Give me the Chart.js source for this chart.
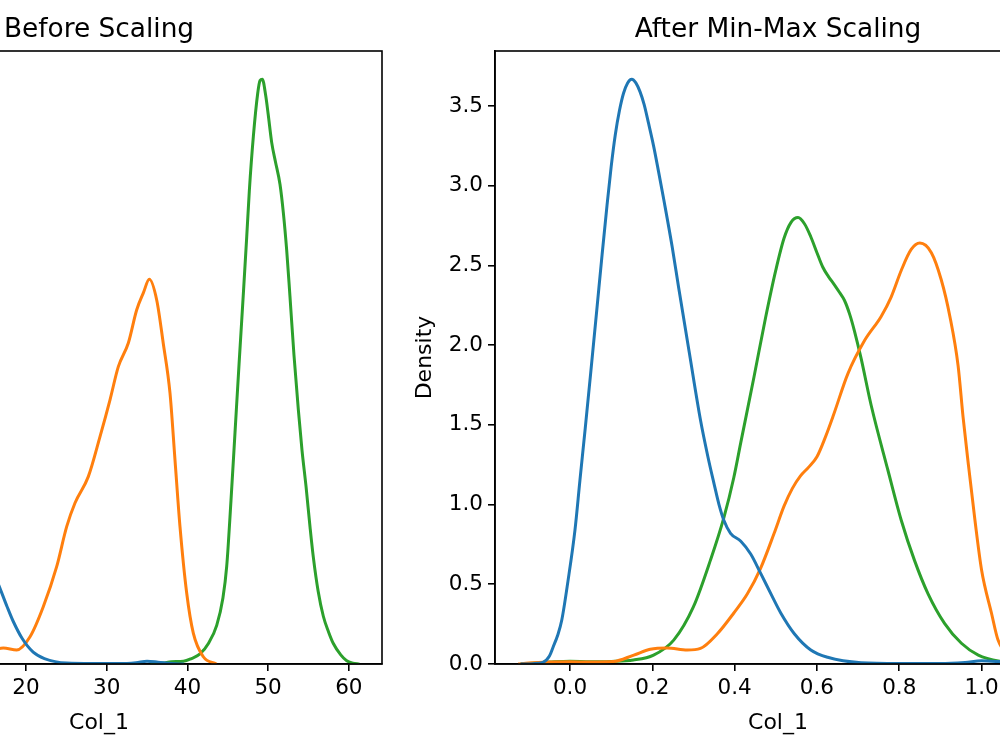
<!DOCTYPE html>
<html>
<head>
<meta charset="utf-8">
<script src="https://cdn.jsdelivr.net/npm/chart.js@4.4.0/dist/chart.umd.min.js"></script>
<style>
  html, body { margin: 0; padding: 0; background: #fff; width: 1000px; height: 750px; overflow: hidden; position: relative; }
  canvas { position: absolute; top: 0; }
  #before-chart { left: -300px; }
  #after-chart { left: 400px; }
</style>
</head>
<body>
<canvas id="before-chart" width="720" height="750"></canvas>
<canvas id="after-chart" width="700" height="750"></canvas>
<script>
// Before scaling (raw Col_1 values)
const blueBeforeX = [-3.08, -2.06, -1.24, -0.7, -0.39, -0.02, 0.32, 0.83, 1.41, 1.82, 2.26, 2.7, 3.21, 3.65, 4.06, 4.4, 4.74, 5.08, 5.42, 5.76, 6.1, 6.44, 6.78, 7.12, 7.46, 7.9, 8.31, 8.75, 9.43, 9.98, 10.86, 11.78, 12.39, 12.9, 13.31, 13.72, 14.26, 15.11, 15.93, 16.74, 17.66, 18.41, 19.53, 20.89, 22.28, 25.04, 28.2, 31.6, 33.64, 35.0, 36.36, 38.06, 39.56];
const blueBeforeY = [0, 0.0001, 0.0003, 0.0015, 0.0031, 0.0053, 0.0081, 0.0153, 0.0247, 0.0338, 0.0435, 0.0535, 0.0653, 0.0756, 0.0847, 0.0918, 0.0976, 0.1021, 0.1053, 0.1072, 0.1079, 0.1072, 0.1056, 0.1032, 0.1, 0.0956, 0.0909, 0.0856, 0.0771, 0.0694, 0.0574, 0.045, 0.0382, 0.0332, 0.0294, 0.0265, 0.0241, 0.0226, 0.0203, 0.0168, 0.0126, 0.0094, 0.0056, 0.0026, 0.0012, 0.0002, 0.0001, 0.0001, 0.0003, 0.0006, 0.0004, 0.0001, 0];
const orangeBeforeX = [4.83, 5.64, 7.2, 8.76, 10.32, 12.04, 13.6, 14.84, 16.12, 17.19, 18.85, 20.5, 22.14, 23.8, 25.04, 26.07, 27.72, 29.17, 30.41, 31.44, 32.68, 33.72, 34.54, 35.28, 36.2, 37.0, 37.84, 38.46, 39.08, 39.91, 40.73, 41.97, 43.6];
const orangeBeforeY = [0, 0.0002, 0.0004, 0.00045, 0.0004, 0.0005, 0.0018, 0.0029, 0.0032, 0.0035, 0.0031, 0.006, 0.0126, 0.0214, 0.0302, 0.0354, 0.0412, 0.05, 0.0581, 0.0654, 0.0706, 0.0779, 0.0816, 0.0846, 0.08, 0.0706, 0.0596, 0.0449, 0.0302, 0.0156, 0.0068, 0.0016, 0];
const greenBeforeX = [35.4, 37.0, 38.0, 39.5, 40.5, 41.56, 42.6, 43.63, 44.4, 44.87, 45.4, 45.9, 46.4, 46.95, 47.35, 47.67, 48.17, 48.71, 49.0, 49.28, 49.7, 50.0, 50.45, 50.9, 51.47, 51.9, 52.3, 52.7, 53.2, 53.74, 54.2, 54.7, 55.2, 55.6, 56.2, 56.84, 57.5, 58.08, 59.0, 59.74, 60.5, 61.3];
const greenBeforeY = [0, 0.0002, 0.0005, 0.0006, 0.0012, 0.0022, 0.0045, 0.0085, 0.0145, 0.0215, 0.036, 0.051, 0.066, 0.082, 0.094, 0.104, 0.116, 0.1255, 0.1283, 0.1286, 0.125, 0.121, 0.1146, 0.1105, 0.1055, 0.099, 0.091, 0.081, 0.068, 0.056, 0.047, 0.039, 0.03, 0.0235, 0.016, 0.0105, 0.007, 0.0045, 0.002, 0.0007, 0.0002, 0];

// After min-max scaling
const blueAfterX = [-0.12, -0.09, -0.066, -0.05, -0.041, -0.03, -0.02, -0.005, 0.012, 0.024, 0.037, 0.05, 0.065, 0.078, 0.09, 0.1, 0.11, 0.12, 0.13, 0.14, 0.15, 0.16, 0.17, 0.18, 0.19, 0.203, 0.215, 0.228, 0.248, 0.264, 0.29, 0.317, 0.335, 0.35, 0.362, 0.374, 0.39, 0.415, 0.439, 0.463, 0.49, 0.512, 0.545, 0.585, 0.626, 0.707, 0.8, 0.9, 0.96, 1.0, 1.04, 1.09, 1.134];
const blueAfterY = [0, 0.002, 0.01, 0.05, 0.107, 0.18, 0.276, 0.52, 0.84, 1.15, 1.48, 1.82, 2.22, 2.57, 2.88, 3.12, 3.32, 3.47, 3.58, 3.645, 3.668, 3.645, 3.59, 3.51, 3.4, 3.25, 3.09, 2.91, 2.62, 2.36, 1.95, 1.53, 1.3, 1.13, 1.0, 0.9, 0.82, 0.77, 0.69, 0.57, 0.43, 0.32, 0.19, 0.088, 0.042, 0.008, 0.003, 0.003, 0.01, 0.02, 0.015, 0.004, 0];
const orangeAfterX = [-0.126, -0.1, -0.05, 0.0, 0.05, 0.105, 0.155, 0.195, 0.236, 0.285, 0.317, 0.358, 0.398, 0.431, 0.463, 0.496, 0.52, 0.54, 0.56, 0.58, 0.6, 0.62, 0.64, 0.675, 0.716, 0.756, 0.78, 0.805, 0.829, 0.85, 0.878, 0.902, 0.923, 0.943, 0.955, 0.968, 0.984, 1.0, 1.024, 1.04, 1.07, 1.1, 1.134];
const orangeAfterY = [0, 0.006, 0.012, 0.014, 0.012, 0.015, 0.056, 0.092, 0.1, 0.088, 0.098, 0.19, 0.32, 0.44, 0.6, 0.82, 0.99, 1.1, 1.18, 1.235, 1.3, 1.42, 1.56, 1.82, 2.03, 2.18, 2.3, 2.47, 2.6, 2.64, 2.58, 2.41, 2.18, 1.87, 1.55, 1.25, 0.9, 0.59, 0.32, 0.15, 0.04, 0.008, 0];
const greenAfterX = [-0.12, -0.09, -0.05, 0.0, 0.05, 0.1, 0.154, 0.203, 0.252, 0.3, 0.341, 0.374, 0.398, 0.415, 0.447, 0.475, 0.5, 0.52, 0.537, 0.554, 0.57, 0.585, 0.6, 0.614, 0.628, 0.642, 0.655, 0.667, 0.68, 0.691, 0.707, 0.732, 0.772, 0.805, 0.837, 0.87, 0.91, 0.951, 0.992, 1.049, 1.09, 1.134];
const greenAfterY = [0, 0.005, 0.012, 0.018, 0.014, 0.016, 0.025, 0.056, 0.15, 0.36, 0.65, 0.92, 1.17, 1.39, 1.8, 2.17, 2.47, 2.67, 2.77, 2.8, 2.76, 2.68, 2.58, 2.49, 2.43, 2.38, 2.33, 2.28, 2.19, 2.09, 1.92, 1.62, 1.22, 0.9, 0.65, 0.44, 0.255, 0.13, 0.056, 0.015, 0.004, 0];

// ticks
const beforeXTicks = [0, 10, 20, 30, 40, 50, 60];
const beforeYTicks = [0, 0.02, 0.04, 0.06, 0.08, 0.1, 0.12];
const afterXTicks = [0, 0.2, 0.4, 0.6, 0.8, 1.0];
const afterYTicks = [0, 0.5, 1.0, 1.5, 2.0, 2.5, 3.0, 3.5];

const colors = ["#1f77b4", "#ff7f0e", "#2ca02c"];
const FONT = "DejaVu Sans";

const toPoints = (xs, ys) => xs.map((x, i) => ({ x, y: ys[i] }));

const panelFrame = {
  id: "panelFrame",
  afterDraw(chart, args, opts) {
    const { ctx, chartArea: a } = chart;
    ctx.save();
    ctx.strokeStyle = "#000";
    ctx.lineWidth = 1.6;
    ctx.strokeRect(a.left, a.top, a.right - a.left, a.bottom - a.top);
    ctx.fillStyle = "#000";
    ctx.font = `26.4px "${FONT}"`;
    ctx.textAlign = "center";
    ctx.textBaseline = "alphabetic";
    ctx.fillText(opts.title, (a.left + a.right) / 2, 37);
    ctx.restore();
  },
};

const axisStyle = (ticks, digits) => ({
  type: "linear",
  afterBuildTicks: (scale) => {
    scale.ticks = ticks.map((value) => ({ value }));
  },
  ticks: {
    autoSkip: false,
    maxRotation: 0,
    color: "#000",
    padding: 5,
    font: { family: FONT, size: 21.5 },
    callback: (v) => Number(v).toFixed(digits),
  },
  grid: {
    display: true,
    drawOnChartArea: false,
    drawTicks: true,
    tickLength: 7,
    color: "#000",
    lineWidth: 1.6,
  },
  border: { display: true, color: "#000", width: 1.6 },
});

const renderPanel = (id, cfg) => {
  const series = [
    toPoints(cfg.blueX, cfg.blueY),
    toPoints(cfg.orangeX, cfg.orangeY),
    toPoints(cfg.greenX, cfg.greenY),
  ];

  const x = axisStyle(cfg.xTicks, cfg.xDigits);
  x.min = cfg.xMin;
  x.max = cfg.xMax;
  x.afterFit = (scale) => { scale.height = 86; };
  x.title = {
    display: true,
    text: "Col_1",
    color: "#000",
    font: { family: FONT, size: 22 },
    padding: { top: 0, bottom: 14 },
  };

  const y = axisStyle(cfg.yTicks, cfg.yDigits);
  y.min = 0;
  y.max = cfg.yMax;
  y.afterFit = (scale) => { scale.width = cfg.yWidth; };
  y.title = {
    display: true,
    text: "Density",
    color: "#000",
    font: { family: FONT, size: 22 },
    padding: { top: cfg.yTitlePad, bottom: 0 },
  };

  return new Chart(document.getElementById(id), {
    type: "line",
    data: {
      datasets: series.map((data, i) => ({
        data,
        borderColor: colors[i],
        borderWidth: 3,
        pointRadius: 0,
        fill: false,
        cubicInterpolationMode: "monotone",
      })),
    },
    options: {
      responsive: false,
      animation: false,
      devicePixelRatio: 1,
      layout: { padding: { top: 51, right: cfg.rightPad, left: 0, bottom: 0 } },
      scales: { x, y },
      plugins: {
        legend: { display: false },
        tooltip: { enabled: false },
        panelFrame: { title: cfg.title },
      },
    },
    plugins: [panelFrame],
  });
};

renderPanel("before-chart", {
  blueX: blueBeforeX, blueY: blueBeforeY,
  orangeX: orangeBeforeX, orangeY: orangeBeforeY,
  greenX: greenBeforeX, greenY: greenBeforeY,
  xTicks: beforeXTicks, yTicks: beforeYTicks,
  xDigits: 0, yDigits: 2,
  xMin: -6.02, xMax: 64.11, yMax: 0.1348,
  yWidth: 116, rightPad: 38, yTitlePad: 12,
  title: "Before Scaling",
});

renderPanel("after-chart", {
  blueX: blueAfterX, blueY: blueAfterY,
  orangeX: orangeAfterX, orangeY: orangeAfterY,
  greenX: greenAfterX, greenY: greenAfterY,
  xTicks: afterXTicks, yTicks: afterYTicks,
  xDigits: 1, yDigits: 1,
  xMin: -0.1823, xMax: 1.193, yMax: 3.845,
  yWidth: 95, rightPad: 39, yTitlePad: 12,
  title: "After Min-Max Scaling",
});
</script>
</body>
</html>
